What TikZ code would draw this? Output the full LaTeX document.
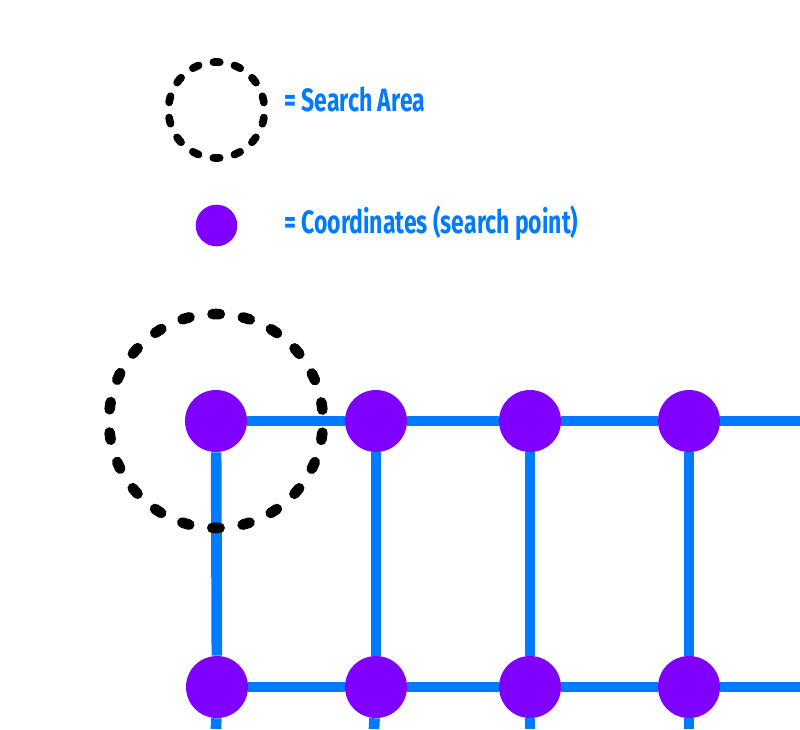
\documentclass[tikz,border=0pt]{standalone}
\usepackage{fontspec}
\newfontfamily\legendfont[FakeStretch=0.71]{Fira Sans}
\definecolor{linkblue}{HTML}{007AFF}
\definecolor{pointpurple}{HTML}{7F00FF}
\tikzstyle{searchpoint} = [circle, fill=pointpurple, minimum size=1.55cm, inner sep=0pt]
\tikzstyle{link} = [draw=linkblue, line width=7.6pt]
\tikzstyle{bigarea} = [line width=7.5pt, line cap=round, dash pattern=on 5.2pt off 16.54pt, dash phase=13.47pt]
\tikzstyle{smallarea} = [line width=5.5pt, line cap=round, dash pattern=on 4.48pt off 10.84pt, dash phase=9.9pt]
\tikzstyle{legendtext} = [anchor=base west, inner sep=0pt, text=linkblue, font=\legendfont\bfseries\fontsize{23}{27}\selectfont]

\begin{document}
\begin{tikzpicture}[x=0.025cm, y=-0.025cm]
\useasboundingbox (0,0) rectangle (800,729);
\draw[smallarea] (216.5,110) circle (48);
\node[legendtext] (arealabel) at (284,111) {=\,Search Area};
\node[searchpoint, minimum size=1.04cm] (legendpoint) at (216.5,225.5) {};
\node[legendtext] (pointlabel) at (284,233.5) {=\,Coordinates (search point)};
\node[searchpoint] (a1) at (216,421) {};
\node[searchpoint] (a2) at (376,421) {};
\node[searchpoint] (a3) at (530,421) {};
\node[searchpoint] (a4) at (689,421) {};
\node[searchpoint] (b1) at (217,687) {};
\node[searchpoint] (b2) at (376,687) {};
\node[searchpoint] (b3) at (530,687) {};
\node[searchpoint] (b4) at (689,687) {};
\coordinate (aend) at (800,421);
\coordinate (bend) at (800,687);
\coordinate (c1) at (216,729);
\coordinate (c2) at (374,729);
\coordinate (c3) at (530,729);
\coordinate (c4) at (689,729);
\draw[link] (a1) -- (a2);
\draw[link] (a2) -- (a3);
\draw[link] (a3) -- (a4);
\draw[link] (a4) -- (aend);
\draw[link] (b1) -- (b2);
\draw[link] (b2) -- (b3);
\draw[link] (b3) -- (b4);
\draw[link] (b4) -- (bend);
\draw[link] (a1) -- (b1);
\draw[link] (a2) -- (b2);
\draw[link] (a3) -- (b3);
\draw[link] (a4) -- (b4);
\draw[link] (b1) -- (c1);
\draw[link] (b2) -- (c2);
\draw[link] (b3) -- (c3);
\draw[link] (b4) -- (c4);
\draw[bigarea] (a1.center) circle (107);
\end{tikzpicture}
\end{document}
